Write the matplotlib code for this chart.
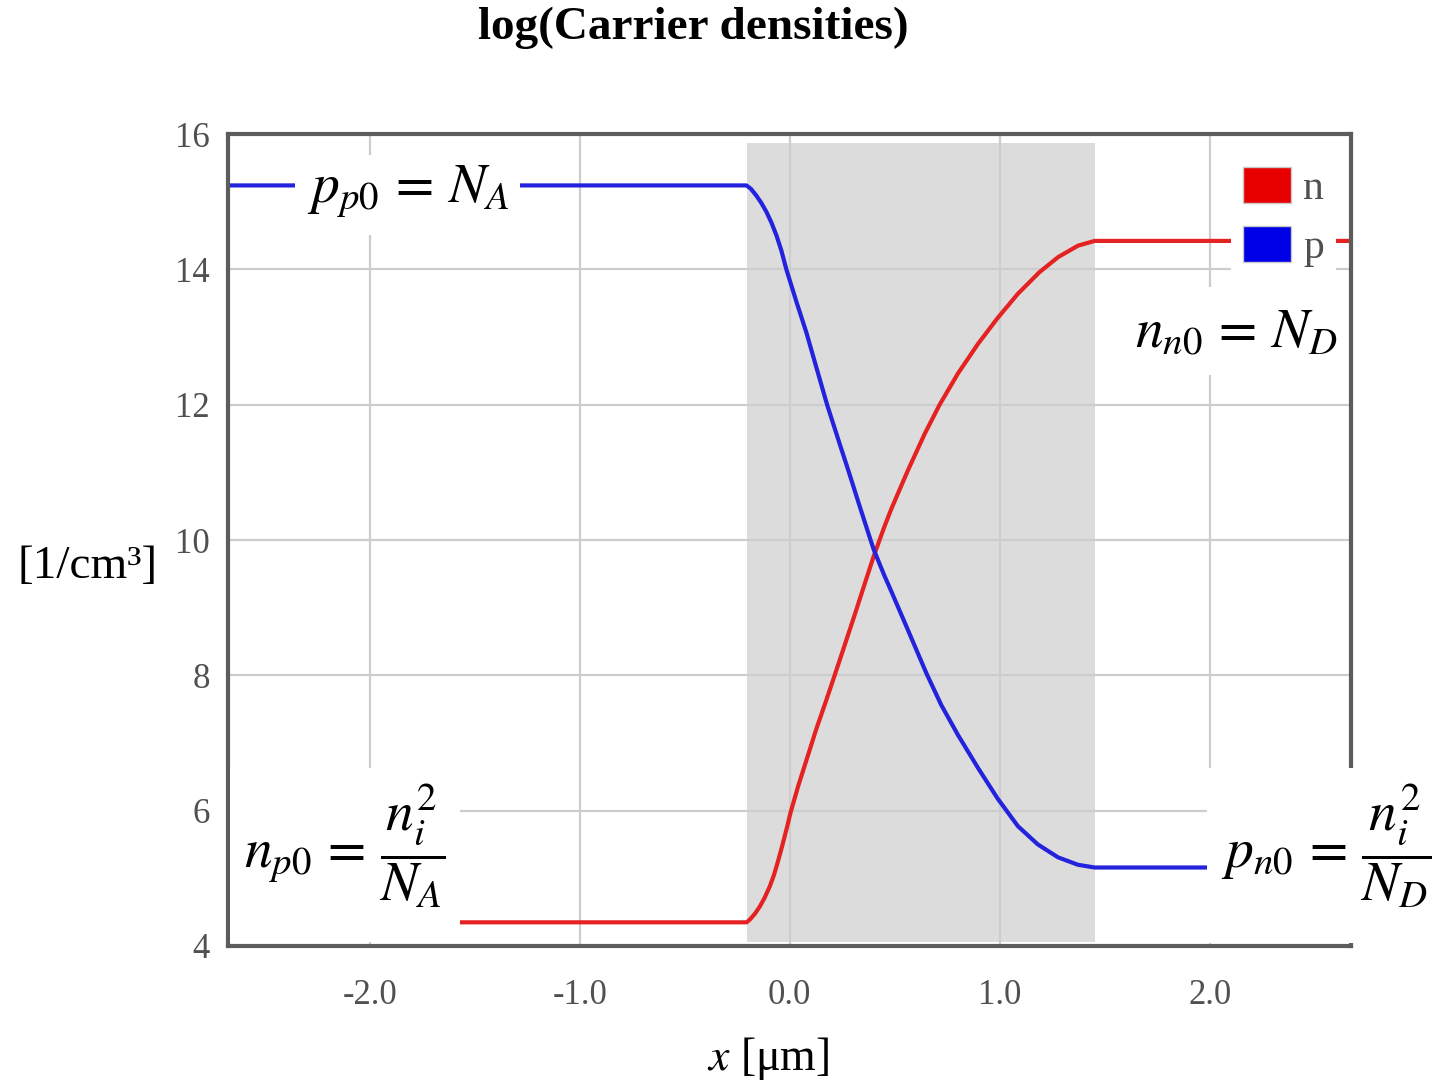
"""log(Carrier densities) — pn 접합 캐리어 농도 분포 재현."""
import matplotlib
matplotlib.use("Agg")
import matplotlib.pyplot as plt
from matplotlib.patches import Patch, Rectangle

plt.rcParams["font.family"] = ["Liberation Serif", "DejaVu Serif"]
plt.rcParams["mathtext.fontset"] = "stix"

# ---- data (x in um, log10 of density) ----
n_x = [-2.70, -0.205, -0.190, -0.165, -0.143, -0.120, -0.095, -0.075, -0.056,
       -0.040, -0.024, -0.010, 0.003, 0.040, 0.080, 0.127, 0.175, 0.214, 0.260,
       0.310, 0.360, 0.400, 0.450, 0.484, 0.563, 0.643, 0.714, 0.801, 0.897,
       0.990, 1.087, 1.190, 1.278, 1.373, 1.452, 2.70]
n_log = [4.35, 4.35, 4.39, 4.48, 4.58, 4.71, 4.88, 5.05, 5.25,
         5.43, 5.62, 5.79, 5.96, 6.36, 6.75, 7.21, 7.64, 8.00, 8.43,
         8.90, 9.38, 9.76, 10.19, 10.46, 11.03, 11.57, 12.00, 12.46, 12.90,
         13.28, 13.64, 13.96, 14.18, 14.35, 14.42, 14.42]

p_x = [-2.70, -0.206, -0.185, -0.159, -0.135, -0.111, -0.087, -0.063, -0.040,
       -0.016, 0.032, 0.079, 0.127, 0.178, 0.238, 0.280, 0.330, 0.385, 0.400,
       0.450, 0.484, 0.563, 0.651, 0.722, 0.801, 0.897, 0.990, 1.087, 1.182,
       1.278, 1.373, 1.452, 2.70]
p_log = [15.24, 15.24, 15.19, 15.09, 14.98, 14.85, 14.69, 14.50, 14.28,
         14.00, 13.52, 13.07, 12.55, 12.00, 11.42, 11.02, 10.53, 10.00, 9.86,
         9.48, 9.24, 8.67, 8.03, 7.56, 7.12, 6.63, 6.18, 5.77, 5.50,
         5.31, 5.20, 5.16, 5.16]

depl_left, depl_right = -0.205, 1.452     # depletion region edges
depl_bottom, depl_top = 4.06, 15.86

x_ticks = [-2.0, -1.0, 0.0, 1.0, 2.0]
y_ticks = [4, 6, 8, 10, 12, 14, 16]

W, H = 1436, 1085
fig = plt.figure(figsize=(W / 100, H / 100), dpi=100)
ax = fig.add_axes([228 / W, 1 - 946 / H, (1351 - 228) / W, (946 - 134) / H])

ax.add_patch(Rectangle((depl_left, depl_bottom), depl_right - depl_left,
                       depl_top - depl_bottom, fc="#dcdcdc", ec="none", zorder=0))
ax.plot(n_x, n_log, color="#e52222", lw=3, zorder=2, solid_capstyle="butt")
ax.plot(p_x, p_log, color="#2323dd", lw=3, zorder=2, solid_capstyle="butt")

ax.set_xlim(-2.675, 2.673)
ax.set_ylim(4, 16)
ax.set_xticks(x_ticks)
ax.set_xticklabels([f"{v:.1f}" for v in x_ticks])
ax.set_yticks(y_ticks)
ax.grid(color="#cdcdcd", lw=1.6, zorder=1)
ax.set_axisbelow(True)
ax.tick_params(length=0, labelsize=25, labelcolor="#505050")
ax.tick_params(axis="y", pad=13)
ax.tick_params(axis="x", pad=24)
for sp in ax.spines.values():
    sp.set_color("#5c5c5c")
    sp.set_linewidth(3)

handles = [Patch(fc="#e80000", ec="#c8c8c8", lw=1, label="n"),
           Patch(fc="#0000e6", ec="#c8c8c8", lw=1, label="p")]
leg = ax.legend(handles=handles, loc="upper right", bbox_to_anchor=(0.987, 0.975),
                fontsize=30, handlelength=1.13, handleheight=0.95, labelspacing=0.42,
                handletextpad=0.3, borderpad=0.3, borderaxespad=0, frameon=True,
                fancybox=False)
leg.get_frame().set_facecolor("white")
leg.get_frame().set_edgecolor("none")
leg.get_frame().set_alpha(1)
for t in leg.get_texts():
    t.set_color("#505050")


def white_box(x0, y0, x1, y1):
    # pixel box (top-left origin) laid over the axes
    fig.add_artist(Rectangle((x0 / W, 1 - y1 / H), (x1 - x0) / W, (y1 - y0) / H,
                             transform=fig.transFigure, fc="white", ec="none",
                             zorder=1))


white_box(295, 155, 520, 235)
white_box(1122, 287, 1340, 375)
white_box(230, 768, 460, 942)
white_box(1207, 768, 1436, 943)

fig.text(408 / W, 1 - 192 / H, r"$p_{p0}\,=\,N_A$", fontsize=40,
         ha="center", va="center", zorder=4)
fig.text(1236 / W, 1 - 333 / H, r"$n_{n0}\,=\,N_D$", fontsize=40,
         ha="center", va="center", zorder=4)
fig.text(345 / W, 1 - 846 / H, r"$n_{p0}\,=\,\dfrac{n_i^2}{N_A}$",
         fontsize=40, ha="center", va="center", zorder=4)
fig.text(1326 / W, 1 - 846 / H, r"$p_{n0}\,=\,\dfrac{n_i^2}{N_D}$",
         fontsize=40, ha="center", va="center", zorder=4)

fig.text(693 / W, 1 - 28 / H, "log(Carrier densities)", fontsize=34,
         fontweight="bold", ha="center", va="center")
fig.text(88 / W, 1 - 567 / H, "[1/cm³]", fontsize=34, ha="center", va="center")
fig.text(768 / W, 1 - 1058 / H, r"$x$ [μm]", fontsize=33, ha="center", va="center")

fig.savefig("out.png", dpi=100)
